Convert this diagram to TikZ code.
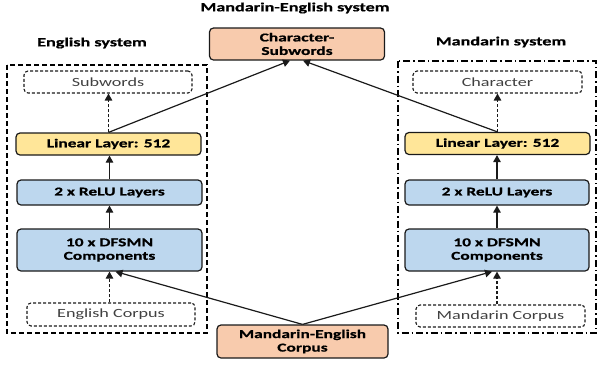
\documentclass[tikz,border=0pt]{standalone}
\usepackage{fontspec}
\setmainfont{Carlito}[FakeStretch=1.45,BoldFeatures={FakeBold=0.8}]
\usetikzlibrary{arrows.meta}
\definecolor{peach}{HTML}{F8CBAD}
\definecolor{ylw}{HTML}{FFE699}
\definecolor{lblue}{HTML}{BDD7EE}
\definecolor{edge}{HTML}{1A1A1A}
\tikzset{
  box/.style={draw=edge,line width=1.2pt,rounded corners=4pt,align=center,font=\fontsize{12}{13.5}\selectfont\bfseries,inner sep=0pt},
  dbox/.style={draw=edge,line width=1.1pt,dash pattern=on 3pt off 2pt,rounded corners=4pt,align=center,font=\fontsize{12.5}{14}\selectfont,text=black!75,inner sep=0pt},
  arr/.style={draw=edge,line width=1.2pt,-{Triangle[length=7pt,width=7.5pt]}},
  darr/.style={arr,dash pattern=on 3pt off 2pt},
  ttl/.style={font=\fontsize{12.5}{14}\selectfont\bfseries}
}
\begin{document}
\begin{tikzpicture}[x=1pt,y=-1pt]
\useasboundingbox (0,0) rectangle (598,365);
% titles
\node[ttl] (t0) at (295,8) {Mandarin-English system};
\node[ttl] (t1) at (92,43) {English system};
\node[ttl] (t2) at (501,42) {Mandarin system};
% frames
\draw[line width=1.1pt,dash pattern=on 5pt off 3pt] (7,65) rectangle (207,333);
\draw[line width=1.1pt,dash pattern=on 7pt off 3pt on 1.5pt off 3pt] (398,61) rectangle (596,333);
% top / bottom shared nodes
\node[box,fill=peach,minimum width=175pt,minimum height=32pt] (cs) at (297,44) {Character-\\Subwords};
\node[box,fill=peach,minimum width=171pt,minimum height=33pt] (mec) at (302.5,341.5) {Mandarin-English\\Corpus};
% English column
\node[dbox,minimum width=168pt,minimum height=22pt] (sw) at (108,82) {Subwords};
\node[box,fill=ylw,minimum width=185pt,minimum height=22pt] (lin1) at (108.5,144) {Linear Layer: 512};
\node[box,fill=lblue,minimum width=185pt,minimum height=25pt] (relu1) at (109.5,192.5) {2 x ReLU Layers};
\node[box,fill=lblue,minimum width=185pt,minimum height=42pt] (dfs1) at (109.5,250) {10 x DFSMN\\Components};
\node[dbox,minimum width=168pt,minimum height=23pt] (ec) at (111,314.5) {English Corpus};
% Mandarin column
\node[dbox,minimum width=169pt,minimum height=22pt] (ch) at (497.5,82) {Character};
\node[box,fill=ylw,minimum width=185pt,minimum height=22pt] (lin2) at (497.5,143.5) {Linear Layer: 512};
\node[box,fill=lblue,minimum width=184pt,minimum height=25pt] (relu2) at (497,192.5) {2 x ReLU Layers};
\node[box,fill=lblue,minimum width=184pt,minimum height=42pt] (dfs2) at (497,250) {10 x DFSMN\\Components};
\node[dbox,minimum width=169pt,minimum height=22pt] (mc) at (500.5,316) {Mandarin Corpus};
% connectors English
\draw[darr] (lin1.north) -- (lin1.north|-sw.south);
\draw[arr] (relu1.north) -- (relu1.north|-lin1.south);
\draw[arr] (dfs1.north) -- (dfs1.north|-relu1.south);
\draw[darr] (ec.north-|dfs1.south) -- (dfs1.south);
\draw[arr] (lin1.north) -- ([xshift=-7pt]cs.south);
% connectors Mandarin
\draw[darr] (lin2.north) -- (lin2.north|-ch.south);
\draw[arr] (relu2.north) -- (relu2.north|-lin2.south);
\draw[arr] (dfs2.north) -- (dfs2.north|-relu2.south);
\draw[darr] (mc.north-|dfs2.south) -- (dfs2.south);
\draw[arr] (lin2.north) -- ([xshift=6pt]cs.south);
% corpus connectors
\draw[arr] (mec.north) -- ([xshift=6pt]dfs1.south);
\draw[arr] (mec.north) -- ([xshift=-5pt]dfs2.south);
\end{tikzpicture}
\end{document}
